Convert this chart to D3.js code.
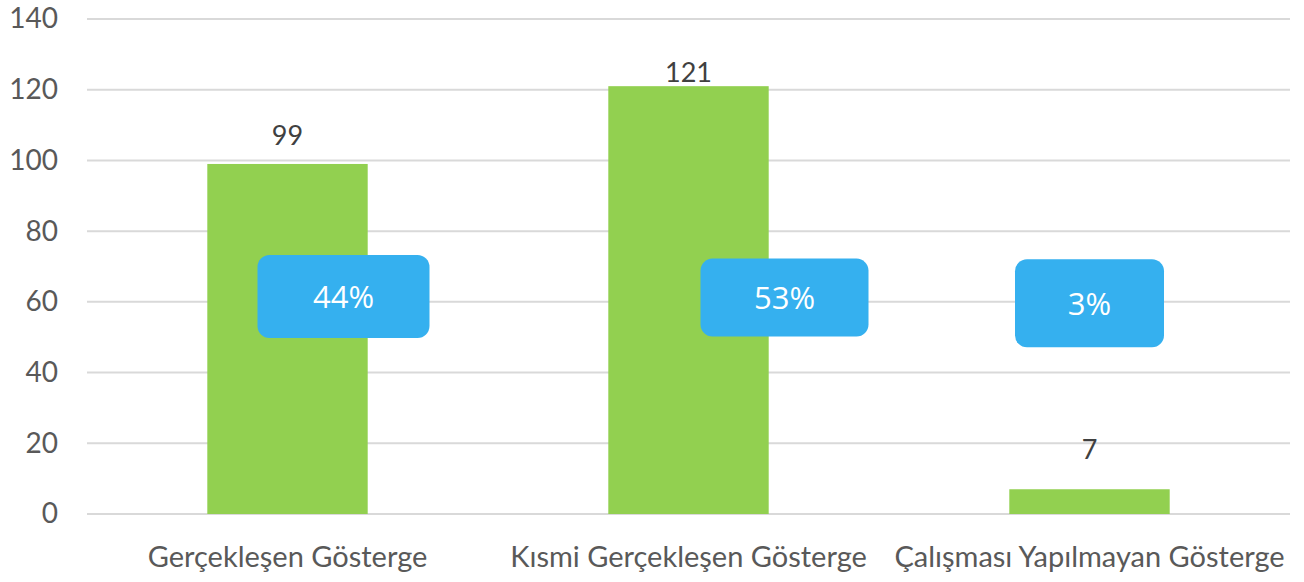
<!DOCTYPE html>
<html>
<head>
<meta charset="utf-8">
<script src="https://cdn.jsdelivr.net/npm/d3@7"></script>
<style>
	body { margin: 0; background: #ffffff; }
</style>
</head>
<body>
<div id="chart"></div>
<script>
// chart data
var categories = ["Gerçekleşen Gösterge", "Kısmi Gerçekleşen Gösterge", "Çalışması Yapılmayan Gösterge"];
var counts = [99, 121, 7];
var shares = ["44%", "53%", "3%"];
var yTicks = [0, 20, 40, 60, 80, 100, 120, 140];

var width = 1304, height = 582;
var margin = {top: 19, right: 14, bottom: 68, left: 87};

var svg = d3.select("#chart").append("svg")
	.attr("width", width)
	.attr("height", height)
	.style("font-family", "Lato, sans-serif");

var x = d3.scaleBand()
	.domain(categories)
	.range([margin.left, width - margin.right])
	.paddingInner(0.6)
	.paddingOuter(0.3);

var y = d3.scaleLinear()
	.domain([0, 140])
	.range([height - margin.bottom, margin.top]);

// gridlines
svg.append("g")
	.selectAll("line")
	.data(yTicks)
	.join("line")
	.attr("x1", margin.left)
	.attr("x2", width - margin.right)
	.attr("y1", function(d) { return y(d); })
	.attr("y2", function(d) { return y(d); })
	.attr("stroke", "#d9d9d9")
	.attr("stroke-width", 2);

// y axis labels
var yAxis = d3.axisLeft(y).tickValues(yTicks).tickSize(0).tickPadding(29);
svg.append("g")
	.attr("transform", "translate(" + margin.left + ",0)")
	.call(yAxis)
	.call(function(g) { g.select(".domain").remove(); })
	.selectAll("text")
	.attr("font-size", 28)
	.attr("font-family", "Lato, sans-serif")
	.attr("fill", "#595959");

// x axis labels
var xAxis = d3.axisBottom(x).tickSize(0).tickPadding(32);
svg.append("g")
	.attr("transform", "translate(0," + y(0) + ")")
	.call(xAxis)
	.call(function(g) { g.select(".domain").remove(); })
	.selectAll("text")
	.attr("font-size", 29)
	.attr("font-family", "Lato, sans-serif")
	.attr("fill", "#595959");

// bars
svg.append("g")
	.selectAll("rect")
	.data(counts)
	.join("rect")
	.attr("x", function(d, i) { return x(categories[i]); })
	.attr("y", function(d) { return y(d); })
	.attr("width", x.bandwidth())
	.attr("height", function(d) { return y(0) - y(d); })
	.attr("fill", "#92d050");

// value labels (gaps follow the original placement)
var labelLift = [19, 4, 30];
svg.append("g")
	.selectAll("text")
	.data(counts)
	.join("text")
	.attr("x", function(d, i) { return x(categories[i]) + x.bandwidth() / 2; })
	.attr("y", function(d, i) { return y(d) - labelLift[i]; })
	.attr("text-anchor", "middle")
	.attr("font-size", 27)
	.attr("fill", "#404040")
	.text(function(d) { return d; });

// percentage callouts
var boxes = [
	{dx: 56, w: 172, h: 83, v: 61.5},
	{dx: 96, w: 168, h: 78, v: 61.2},
	{dx: 0, w: 149, h: 88, v: 59.6}
];
var callout = svg.append("g")
	.selectAll("g")
	.data(shares)
	.join("g")
	.attr("transform", function(d, i) {
		var cx = x(categories[i]) + x.bandwidth() / 2 + boxes[i].dx;
		return "translate(" + cx + "," + y(boxes[i].v) + ")";
	});

callout.append("rect")
	.attr("x", function(d, i) { return -boxes[i].w / 2; })
	.attr("y", function(d, i) { return -boxes[i].h / 2; })
	.attr("width", function(d, i) { return boxes[i].w; })
	.attr("height", function(d, i) { return boxes[i].h; })
	.attr("rx", 12)
	.attr("fill", "#35b0ef");

callout.append("text")
	.attr("text-anchor", "middle")
	.attr("dy", "0.35em")
	.attr("y", 1)
	.attr("fill", "#ffffff")
	.style("font-family", "'Open Sans', sans-serif")
	.style("font-size", "31px")
	.style("font-weight", 500)
	.text(function(d) { return d; });
</script>
</body>
</html>
